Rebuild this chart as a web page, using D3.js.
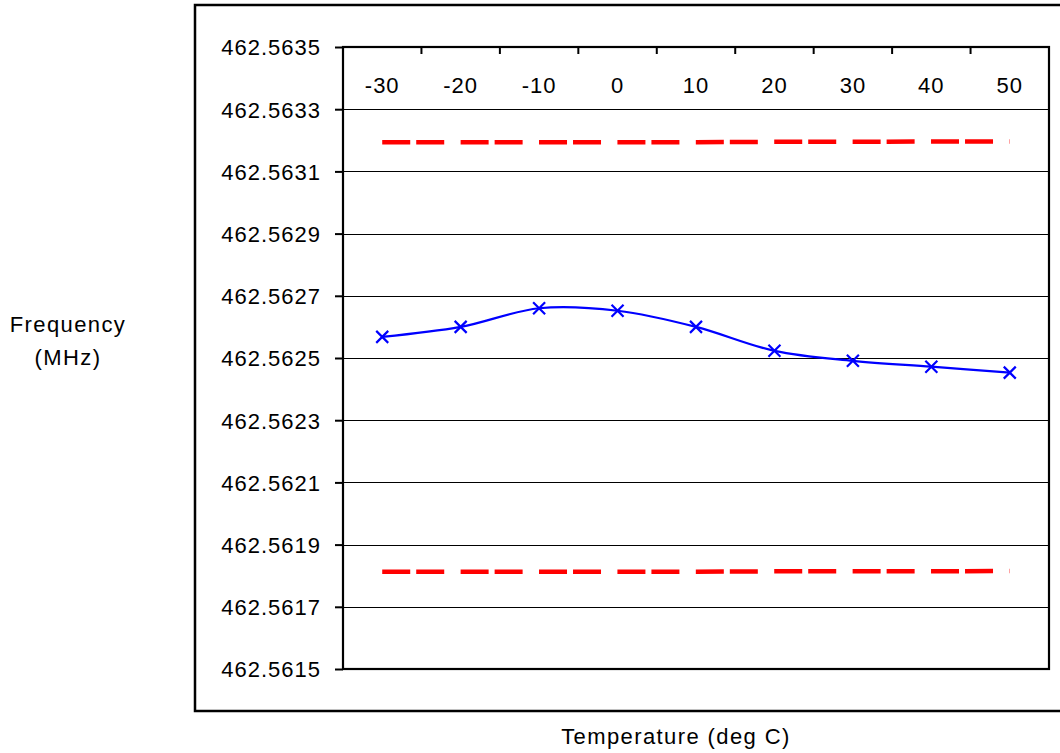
<!DOCTYPE html>
<html>
<head>
<meta charset="utf-8">
<script src="https://cdn.jsdelivr.net/npm/d3@7"></script>
<style>
  body { margin: 0; background: #fff; }
  text { font-family: "Liberation Sans", Arial, sans-serif; fill: #000; }
</style>
</head>
<body>
<div id="chart"></div>
<script>
// data
var temps = [-30, -20, -10, 0, 10, 20, 30, 40, 50];
var freq = [462.562568, 462.562600, 462.562660, 462.562652, 462.562600, 462.562523, 462.562491, 462.562472, 462.562453];
var upperLimit = [462.563194, 462.563194, 462.563194, 462.563194, 462.563194, 462.563195, 462.563195, 462.563196, 462.563196];
var lowerLimit = [462.561813, 462.561813, 462.561813, 462.561813, 462.561813, 462.561814, 462.561814, 462.561814, 462.561815];
var yTicks = d3.range(0, 11).map(function (i) { return 462.5615 + i * 0.0002; });

var w = 1060, h = 753;
var padLeft = 343, padRight = 1049, padTop = 47, padBottom = 669;

var svg = d3.select("#chart").append("svg").attr("width", w).attr("height", h);

// outer chart frame
svg.append("rect").attr("x", 195).attr("y", 5).attr("width", 900).attr("height", 706)
  .attr("fill", "none").attr("stroke", "#000").attr("stroke-width", 2.5);

var x = d3.scaleBand().domain(temps).range([padLeft, padRight]).padding(0);
var y = d3.scaleLinear().domain([462.5615, 462.5635]).range([padBottom, padTop]);
var cx = function (d) { return x(d) + x.bandwidth() / 2; };

// horizontal grid lines
svg.selectAll(".grid").data(yTicks).enter().append("line")
  .attr("x1", padLeft).attr("x2", padRight)
  .attr("y1", function (d) { return Math.round(y(d)) + 0.5; })
  .attr("y2", function (d) { return Math.round(y(d)) + 0.5; })
  .attr("stroke", "#000").attr("stroke-width", 1.2);

// y axis
var yAxis = svg.append("g").attr("transform", "translate(" + padLeft + ",0)")
  .call(d3.axisLeft(y).tickValues(yTicks).tickFormat(d3.format(".4f")).tickSize(8).tickPadding(14));
yAxis.select(".domain").remove();
yAxis.selectAll("line").attr("stroke", "#000").attr("stroke-width", 2);
yAxis.selectAll("text").attr("font-size", 22).attr("letter-spacing", 1)
  .attr("fill", "#000")
  .style("font-family", "Liberation Sans, Arial, sans-serif").attr("dy", "0.36em");

// x axis on top, ticks pointing in
var bounds = temps.map(function (d) { return x(d); }).slice(1);
svg.selectAll(".xtick").data(bounds).enter().append("line")
  .attr("x1", function (d) { return d; }).attr("x2", function (d) { return d; })
  .attr("y1", padTop).attr("y2", padTop + 7)
  .attr("stroke", "#000").attr("stroke-width", 2);
svg.selectAll(".xlab").data(temps).enter().append("text")
  .attr("x", cx).attr("y", 93).attr("text-anchor", "middle")
  .attr("font-size", 22).attr("letter-spacing", 1)
  .text(function (d) { return d; });

// plot border
svg.append("rect").attr("x", padLeft).attr("y", padTop).attr("width", padRight - padLeft).attr("height", padBottom - padTop)
  .attr("fill", "none").attr("stroke", "#000").attr("stroke-width", 2.2);

// limit lines
[upperLimit, lowerLimit].forEach(function (arr) {
  svg.append("path").datum(arr)
    .attr("d", d3.line().x(function (d, i) { return cx(temps[i]); }).y(function (d) { return y(d); }))
    .attr("fill", "none").attr("stroke", "#ff0000").attr("stroke-width", 4.5)
    .attr("stroke-dasharray", "28,6,28,16.4");
});

// measured frequency
svg.append("path").datum(freq)
  .attr("d", d3.line().curve(d3.curveCatmullRom.alpha(0.5))
    .x(function (d, i) { return cx(temps[i]); }).y(function (d) { return y(d); }))
  .attr("fill", "none").attr("stroke", "#0000ff").attr("stroke-width", 2.2);

var m = 6;
svg.selectAll(".mark").data(freq).enter().append("path")
  .attr("d", function (d, i) {
    var px = cx(temps[i]), py = y(d);
    return "M" + (px - m) + "," + (py - m) + "L" + (px + m) + "," + (py + m) +
      "M" + (px - m) + "," + (py + m) + "L" + (px + m) + "," + (py - m);
  })
  .attr("stroke", "#0000ff").attr("stroke-width", 2.2).attr("fill", "none");

// axis titles
svg.append("text").attr("x", 68).attr("y", 332).attr("text-anchor", "middle")
  .attr("font-size", 22).attr("letter-spacing", 1.4).text("Frequency");
svg.append("text").attr("x", 68).attr("y", 365).attr("text-anchor", "middle")
  .attr("font-size", 22).attr("letter-spacing", 1.4).text("(MHz)");
svg.append("text").attr("x", 676).attr("y", 744).attr("text-anchor", "middle")
  .attr("font-size", 22).attr("letter-spacing", 1.4).text("Temperature (deg C)");
</script>
</body>
</html>
